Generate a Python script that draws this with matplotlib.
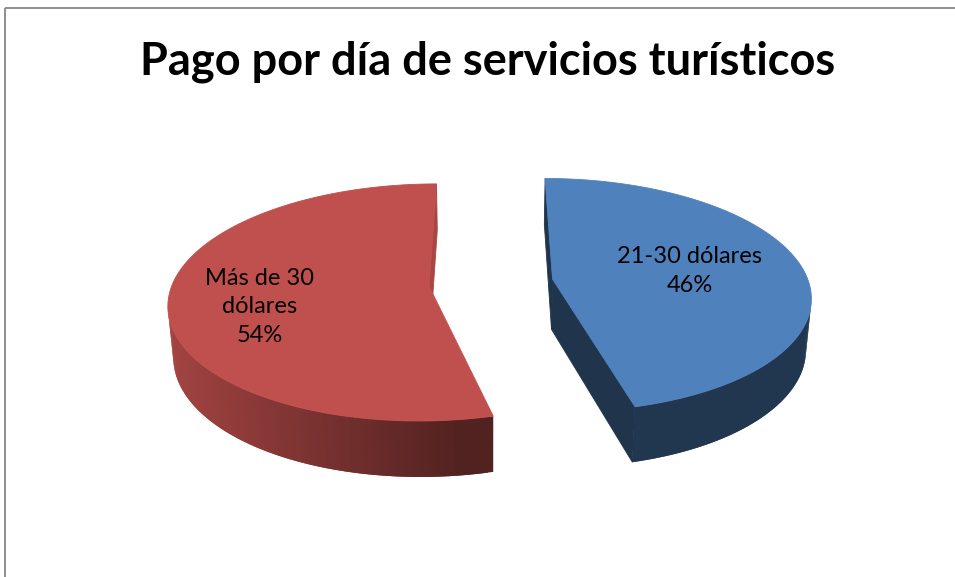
import numpy as np
import matplotlib
matplotlib.use("Agg")
import matplotlib.pyplot as plt
from matplotlib.patches import Polygon, Rectangle

# data
labels = ["21-30 dólares", "Más de 30\ndólares"]
values = [46, 54]
colors = [(79, 129, 189), (192, 80, 77)]
title = "Pago por día de servicios turísticos"

# 3d pie settings
explode = 0.243
height = 0.224
elev = np.radians(28.5)
dist = 6.5
scale = 252.0
cx, cy = 491.0, 333.0
label_r = [0.55, 0.66]
label_turn = [0.0, -8.0]
side_shade = [0.40, 0.88]
light = np.array([-1.0, 0.0, 0.15])
light = light / np.linalg.norm(light)
cam = np.array([0.0, dist * np.sin(elev), dist * np.cos(elev)])


def project(X, Y, Z):
    yc = Y * np.cos(elev) - Z * np.sin(elev)
    d = dist - (Z * np.cos(elev) + Y * np.sin(elev))
    k = scale * dist / d
    return cx + k * X, cy - k * yc


def rgb(c, f=1.0):
    return tuple(min(1.0, v * f / 255.0) for v in c)


fig = plt.figure(figsize=(9.55, 5.77), dpi=100)
ax = fig.add_axes([0, 0, 1, 1])
ax.set_xlim(0, 955)
ax.set_ylim(577, 0)
ax.axis("off")

ax.add_patch(Rectangle((4.5, 7.5), 1000, 700, fill=False, ec="#868686", lw=1.3))

fracs = np.array(values) / sum(values)
start = 0.0
for i, f in enumerate(fracs):
    t1 = start
    t2 = start + f * 2 * np.pi
    start = t2
    mid = (t1 + t2) / 2
    ox, oz = explode * np.sin(mid), -explode * np.cos(mid)
    th = np.linspace(t1, t2, 181)
    ax_ = ox + np.sin(th)
    az_ = oz - np.cos(th)
    last = len(th) - 1

    # outer wall, only segments facing the camera; each quad overlaps the next
    for j in range(last):
        tm = (th[j] + th[j + 1]) / 2
        n = np.array([np.sin(tm), 0.0, -np.cos(tm)])
        p = np.array([ox + np.sin(tm), height / 2, oz - np.cos(tm)])
        if np.dot(cam - p, n) <= 0:
            continue
        shade = 0.42 + 0.43 * max(0.0, np.dot(n, light))
        k = min(j + 2, last)
        if np.dot(cam - np.array([ax_[k], height / 2, az_[k]]), np.array([np.sin(th[k]), 0, -np.cos(th[k])])) <= 0:
            k = j + 1
        xs, ys = [], []
        for (tt, yy) in [(j, height), (k, height), (k, 0.0), (j, 0.0)]:
            sx, sy = project(ax_[tt], yy, az_[tt])
            xs.append(sx)
            ys.append(sy)
        c = rgb(colors[i], shade)
        ax.add_patch(Polygon(np.c_[xs, ys], closed=True, fc=c, ec="none", lw=0))

    # radial walls
    for tt, sgn in [(t1, -1), (t2, 1)]:
        n = sgn * np.array([np.cos(tt), 0.0, np.sin(tt)])
        p = np.array([ox + 0.5 * np.sin(tt), height / 2, oz - 0.5 * np.cos(tt)])
        if np.dot(cam - p, n) <= 0:
            continue
        pts = [(ox, height, oz), (ox + np.sin(tt), height, oz - np.cos(tt)),
               (ox + np.sin(tt), 0.0, oz - np.cos(tt)), (ox, 0.0, oz)]
        poly = [project(X, Y, Z) for X, Y, Z in pts]
        c = rgb(colors[i], side_shade[i])
        ax.add_patch(Polygon(poly, closed=True, fc=c, ec=c, lw=0.6))

    # top face
    sx, sy = project(ax_, height, az_)
    px, py = project(ox, height, oz)
    top = np.c_[np.r_[px, sx], np.r_[py, sy]]
    ax.add_patch(Polygon(top, closed=True, fc=rgb(colors[i]), ec=rgb(colors[i]), lw=0.6))

    # label
    la = mid + np.radians(label_turn[i])
    lx, ly = project(ox + label_r[i] * np.sin(la), height, oz - label_r[i] * np.cos(la))
    ax.text(lx, ly, "%s\n%d%%" % (labels[i], values[i]), ha="center", va="center",
            fontsize=17, family="Lato", linespacing=1.45, color="black")

ax.text(488, 62, title, ha="center", va="center", fontsize=32.5, fontweight="bold",
        family="Lato", color="black")

fig.savefig("out.png", dpi=100)
